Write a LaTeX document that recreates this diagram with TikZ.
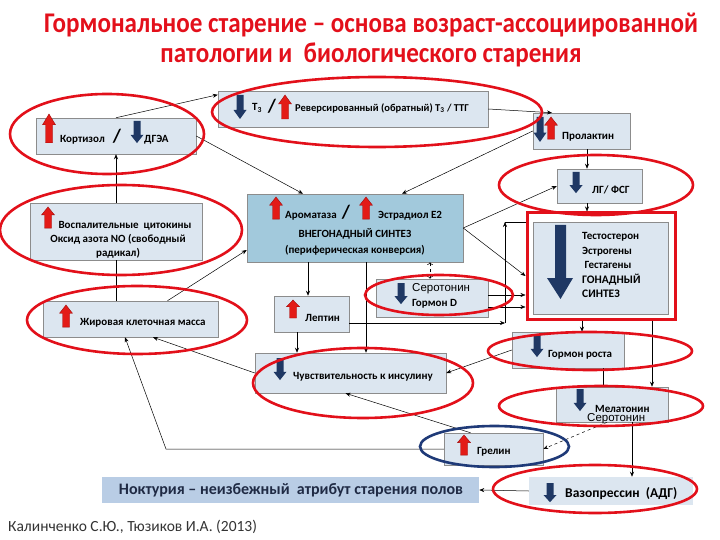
\documentclass[tikz,border=0pt]{standalone}
\usepackage{fontspec}
\setmainfont{Carlito}
\newfontfamily\titlefont[FakeStretch=0.88]{Carlito}
\newfontfamily\overfont{Liberation Sans}
\usetikzlibrary{arrows.meta}
\definecolor{boxfill}{HTML}{DCE6F0}
\definecolor{boxline}{HTML}{8C8C8C}
\definecolor{aromfill}{HTML}{A2C9DC}
\definecolor{noctfill}{HTML}{B9CDE5}
\definecolor{ringred}{HTML}{E2101A}
\definecolor{ringblue}{HTML}{1F3A78}
\definecolor{arrred}{HTML}{E31B17}
\definecolor{arrredd}{HTML}{A00C0C}
\definecolor{arrblue}{HTML}{1F3864}
\definecolor{titlered}{HTML}{E3101B}
\definecolor{noctnavy}{HTML}{1F2A44}
\tikzstyle{box}=[draw=boxline, fill=boxfill, line width=0.5pt, inner sep=0pt]
\tikzstyle{lbl}=[font=\fontsize{11}{14}\selectfont\bfseries, inner sep=0pt, anchor=west]
\tikzstyle{slash}=[font=\fontsize{19}{19}\selectfont\bfseries, inner sep=0pt]
\tikzstyle{ring}=[draw=ringred, line width=2.6pt]
\tikzstyle{conn}=[-{Stealth[length=5pt,width=4pt]}, line width=0.5pt]
\tikzstyle{wire}=[line width=0.5pt]
\tikzset{
  uparr/.pic={\filldraw[fill=arrred, draw=arrredd, line width=0.4pt]
    (0,0) -- (6.5,9) -- (3.5,9) -- (3.5,24) -- (-3.5,24) -- (-3.5,9) -- (-6.5,9) -- cycle;},
  dnarr/.pic={\fill[arrblue]
    (-3.5,0) -- (3.5,0) -- (3.5,15) -- (6.5,15) -- (0,24) -- (-6.5,15) -- (-3.5,15) -- cycle;}
}

\begin{document}
\begin{tikzpicture}[x=1pt, y=-1pt]
\useasboundingbox (0,0) rectangle (720,540);

\node[font=\titlefont\bfseries\fontsize{28.5}{30}\selectfont, text=titlered] (title1) at (371,25)
  {Гормональное старение – основа возраст-ассоциированной};
\node[font=\titlefont\bfseries\fontsize{28.5}{30}\selectfont, text=titlered] (title2) at (371,55)
  {патологии и\ \ биологического старения};

% boxes
\node[box, minimum width=270pt, minimum height=36pt] (t3)    at (353,109)   {};
\node[box, minimum width=160pt, minimum height=36pt] (cort)  at (116,136)   {};
\node[box, minimum width=172pt, minimum height=57pt] (infl)  at (116,231.5) {};
\node[box, minimum width=97pt,  minimum height=36pt] (prl)   at (581.5,131) {};
\node[box, minimum width=85pt,  minimum height=34pt] (lgfsh) at (599.5,186) {};
\node[box, fill=aromfill, minimum width=216pt, minimum height=68pt] (arom) at (355,228) {};
\node[box, minimum width=112pt, minimum height=38pt] (sero)  at (432,298)   {};
\node[box, minimum width=75pt,  minimum height=36pt] (lept)  at (311.5,314) {};
\node[draw=ringred, line width=3pt, minimum width=148pt, minimum height=106pt] (gframe) at (601,266) {};
\node[box, minimum width=135pt, minimum height=92pt] (gonad) at (600.5,268) {};
\node[box, minimum width=175pt, minimum height=36pt] (fat)   at (130.5,319) {};
\node[box, minimum width=112pt, minimum height=36pt] (gh)    at (568,350)   {};
\node[box, minimum width=191pt, minimum height=40pt] (ins)   at (350.5,373) {};
\node[box, minimum width=112pt, minimum height=35pt] (mel)   at (612,404.5) {};
\node[box, minimum width=99pt,  minimum height=32pt] (ghr)   at (493.5,449) {};
\node[box, fill=noctfill, draw=none, minimum width=377pt, minimum height=26pt] (noct) at (290.5,490) {};
\node[box, draw=none, minimum width=164pt, minimum height=28pt] (vaso) at (611,491) {};

% connectors
\coordinate (lepR) at (505,323);
\coordinate (lepU) at (505,222);
\coordinate (ghrC) at (166,449);
\draw[conn] (infl.north) -- (cort.south);
\draw[wire] (infl.south) -- (infl.south |- fat.north);
\draw[conn] (cort.north) -- ([yshift=-4pt]t3.north west);
\draw[conn] (cort.east) -- ([xshift=-52pt]arom.north);
\draw[conn] (prl.west) -- ([xshift=47pt]arom.north);
\draw[conn] (t3.east) -- (552,0 |- prl.north);
\draw[conn] (587,0 |- prl.south) -- (587,0 |- lgfsh.north);
\draw[conn] (587,0 |- lgfsh.south) -- (587,0 |- gframe.north);
\draw[conn] (arom.east) -- (lgfsh.west);
\draw[conn] (arom.east) -- ([yshift=-10pt]gframe.west);
\draw[conn] (308,0 |- arom.south) -- (308,0 |- lept.north);
\draw[conn] (366,0 |- arom.south) -- (366,0 |- ins.north);
\draw[conn, <->, dashed] (430,0 |- sero.north) -- (430,0 |- arom.south);
\draw[conn] ([yshift=-9pt]lept.east) -- (lepR);
\draw[conn] (lepR) -- (lepU);
\draw[wire] (lepU) -- (lepU -| gframe.west);
\draw[conn] (sero.east |- 0,295) -- (gframe.west |- 0,295);
\draw[conn] (sero.east |- 0,307) -- (gframe.west |- 0,307);
\draw[conn] (582,0 |- gframe.south) -- (582,0 |- gh.north);
\draw[conn] (652,0 |- gframe.south) -- (652,0 |- mel.north);
\draw[wire] (603,0 |- gh.south) -- (603,0 |- mel.north);
\draw[conn, dashed] ([xshift=-5pt]mel.south) -- (ghr.east);
\draw[conn] (632,0 |- mel.south) -- (632,0 |- vaso.north);
\draw[conn] (vaso.west) -- (noct.east);
\draw[conn] (ghr.west) -- (ghrC) -- ([xshift=-5.5pt]fat.south);
\draw[conn] (ins.west) -- ([xshift=22.5pt]fat.south);
\draw[conn] ([xshift=37pt]fat.north) -- ([yshift=-22pt]arom.west);
\draw[conn] (gh.west) -- (ins.east);
\draw[conn] ([xshift=-23pt]ghr.north) -- ([xshift=-5pt]ins.south);
\draw[conn] (297,0 |- lept.south) -- (297,0 |- ins.north);

% arrows in the boxes
\pic at (49,114) [yscale=1.2] {uparr};
\pic at (137,121) [yscale=0.92] {dnarr};
\pic at (240,95) {dnarr};
\pic at (285,95) {uparr};
\pic at (540,117) [yscale=1.04] {dnarr};
\pic at (551,117) [yscale=0.92] {uparr};
\pic at (576,172) [yscale=0.88] {dnarr};
\pic at (48,207) [yscale=0.88] {uparr};
\pic at (276,197) [yscale=0.92] {uparr};
\pic at (366,197) [yscale=0.92] {uparr};
\pic at (401,283) [yscale=0.88] {dnarr};
\pic at (293,300) [yscale=0.75] {uparr};
\pic at (66,305) [yscale=0.92] {uparr};
\pic at (537,335) [yscale=0.92] {dnarr};
\pic at (280,358) [yscale=0.92] {dnarr};
\pic at (580,389) [yscale=0.92] {dnarr};
\pic at (464,435) [yscale=0.84] {uparr};
\pic at (550,483) [yscale=0.8] {dnarr};
\fill[arrblue] (555,225) -- (566,225) -- (566,278) -- (573,278) -- (560.5,299) -- (547,278) -- (555,278) -- cycle;

% texts
\node[lbl] (t3a) at (252,108) {T\textsubscript{3}};
\node[slash] (t3s) at (272,106) {/};
\node[lbl, font=\fontsize{10.5}{14}\selectfont\bfseries] (t3b) at (295,108) {Реверсированный (обратный) T\textsubscript{3} / ТТГ};
\node[lbl] (cortA) at (60,140) {Кортизол};
\node[slash] (cortS) at (117,136) {/};
\node[lbl] (cortB) at (144,140) {ДГЭА};
\node[lbl] (prlT) at (562,137) {Пролактин};
\node[lbl] (lgT) at (592,190) {ЛГ/ ФСГ};
\node[lbl, anchor=center, align=center] (inflT) at (118,240)
  {\hspace*{14pt}Воспалительные\ \ цитокины\\Оксид азота NO (свободный\\радикал)};
\node[lbl] (aromA) at (285,216) {Ароматаза};
\node[slash] (aromS) at (346,212) {/};
\node[lbl] (aromB) at (378,216) {Эстрадиол E2};
\node[lbl, anchor=center] (aromC) at (355,234) {ВНЕГОНАДНЫЙ СИНТЕЗ};
\node[lbl, anchor=center] (aromD) at (355,250) {(периферическая конверсия)};
\node[lbl, font=\overfont\fontsize{11.5}{14}\selectfont] (seroA) at (412,289) {Серотонин};
\node[lbl] (seroB) at (412,304) {Гормон D};
\node[lbl] (leptT) at (305,318) {Лептин};
\node[lbl, align=left, font=\fontsize{11}{14.5}\selectfont\bfseries] (gonT) at (582,265)
  {Тестостерон\\Эстрогены\\\ Гестагены\\{\fontsize{11.5}{14.5}\selectfont ГОНАДНЫЙ}\\{\fontsize{11.5}{14.5}\selectfont СИНТЕЗ}};
\node[lbl] (fatT) at (80,323) {Жировая клеточная масса};
\node[lbl] (ghT) at (548,355) {Гормон роста};
\node[lbl] (insT) at (293,377) {Чувствительность к инсулину};
\node[lbl] (melT) at (595,409) {Мелатонин};
\node[lbl, font=\overfont\fontsize{11.5}{14}\selectfont] (melS) at (587,419) {Серотонин};
\node[lbl] (ghrT) at (477,452) {Грелин};
\node[font=\fontsize{16}{18}\selectfont\bfseries, text=noctnavy, inner sep=0pt] (noctT) at (291,490)
  {Ноктурия – неизбежный\ \ атрибут старения полов};
\node[lbl, font=\fontsize{13.5}{15}\selectfont\bfseries] (vasoT) at (565,494) {Вазопрессин\ \ (АДГ)};
\node[lbl, font=\fontsize{15.5}{17}\selectfont, text=black!80] (cite) at (8,527)
  {Калинченко С.Ю., Тюзиков И.А. (2013)};

% red rings
\draw[ring] (377,112) ellipse [x radius=165pt, y radius=35pt];
\draw[ring] (107,134) ellipse [x radius=97pt, y radius=40pt];
\draw[ring] (121,230) ellipse [x radius=121pt, y radius=45pt];
\draw[ring] (596,185) ellipse [x radius=97pt, y radius=30pt];
\draw[ring] (439,295) ellipse [x radius=74pt, y radius=20pt];
\draw[ring] (137,320) ellipse [x radius=110pt, y radius=34pt];
\draw[ring] (590,351) ellipse [x radius=102pt, y radius=19pt];
\draw[ring] (363,383) ellipse [x radius=110pt, y radius=35pt];
\draw[ring] (601,406) ellipse [x radius=102pt, y radius=20pt];
\draw[ring, draw=ringblue] (494.5,446.5) ellipse [x radius=74.5pt, y radius=20.5pt];
\draw[ring] (595,489) ellipse [x radius=102pt, y radius=24pt];

\end{tikzpicture}
\end{document}
